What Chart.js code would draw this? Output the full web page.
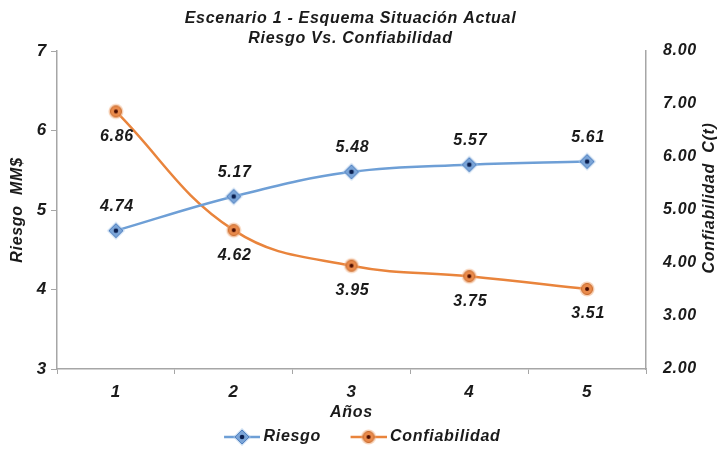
<!DOCTYPE html>
<html>
<head>
<meta charset="utf-8">
<script src="https://cdn.jsdelivr.net/npm/chart.js@4/dist/chart.umd.min.js"></script>
<style>
  html, body { margin: 0; padding: 0; background: #ffffff; }
  #wrap { width: 719px; height: 451px; }
</style>
</head>
<body>
<div id="wrap"><canvas id="c" width="719" height="451"></canvas></div>
<script>
// Years on the horizontal axis
const years = ['1', '2', '3', '4', '5'];
// Risk (MM$), left axis
const riesgo = [4.74, 5.17, 5.48, 5.57, 5.61];
// Reliability C(t), right axis
const confiabilidad = [6.86, 4.62, 3.95, 3.75, 3.51];
// Axis tick values
const riesgoTicks = [3, 4, 5, 6, 7];
const confTicks = [2, 3, 4, 5, 6, 7, 8];

const FONT = "'Liberation Sans', Arial, sans-serif";
const TEXT = '#1a1a1a';
const AXIS = '#a6a6a6';
const BLUE = '#6e9fd6';
const ORANGE = '#e9843c';
const SPACING = '0.7px';

function bi(size) {
  return { family: FONT, size: size, style: 'italic', weight: 'bold' };
}

function drawDiamond(ctx, cx, cy) {
  ctx.fillStyle = 'rgba(165,196,232,0.6)';
  ctx.beginPath();
  ctx.moveTo(cx, cy - 9); ctx.lineTo(cx + 9, cy); ctx.lineTo(cx, cy + 9); ctx.lineTo(cx - 9, cy); ctx.closePath();
  ctx.fill();
  ctx.fillStyle = '#7ba5d8';
  ctx.strokeStyle = '#4f7fbf';
  ctx.lineWidth = 1;
  ctx.beginPath();
  ctx.moveTo(cx, cy - 7); ctx.lineTo(cx + 7, cy); ctx.lineTo(cx, cy + 7); ctx.lineTo(cx - 7, cy); ctx.closePath();
  ctx.fill(); ctx.stroke();
  ctx.fillStyle = '#0b1f4f';
  ctx.beginPath(); ctx.arc(cx, cy, 2.3, 0, Math.PI * 2); ctx.fill();
}

function drawCircle(ctx, cx, cy) {
  ctx.fillStyle = 'rgba(240,172,122,0.55)';
  ctx.beginPath(); ctx.arc(cx, cy, 7.5, 0, Math.PI * 2); ctx.fill();
  ctx.fillStyle = '#e98a4b';
  ctx.strokeStyle = '#c86a2c';
  ctx.lineWidth = 1;
  ctx.beginPath(); ctx.arc(cx, cy, 5.5, 0, Math.PI * 2); ctx.fill(); ctx.stroke();
  ctx.fillStyle = '#4a0c00';
  ctx.beginPath(); ctx.arc(cx, cy, 2, 0, Math.PI * 2); ctx.fill();
}

function markerIcon(drawFn) {
  const c = document.createElement('canvas');
  c.width = 20; c.height = 20;
  drawFn(c.getContext('2d'), 10, 10);
  return c;
}

// Legend sample: a short line with the marker on it, placed at the right end
function legendIcon(drawFn, color) {
  const c = document.createElement('canvas');
  c.width = 64; c.height = 20;
  const ctx = c.getContext('2d');
  ctx.strokeStyle = color;
  ctx.lineWidth = 2.5;
  ctx.beginPath(); ctx.moveTo(28, 10); ctx.lineTo(64, 10); ctx.stroke();
  drawFn(ctx, 46, 10);
  return c;
}

const blueMarker = markerIcon(drawDiamond);
const orangeMarker = markerIcon(drawCircle);
const legendIcons = [legendIcon(drawDiamond, BLUE), legendIcon(drawCircle, ORANGE)];

const textSpacing = {
  id: 'textSpacing',
  beforeLayout(chart) { chart.ctx.letterSpacing = SPACING; },
  beforeDraw(chart) { chart.ctx.letterSpacing = SPACING; }
};

// Value labels: above the risk points, below the reliability points
const valueLabels = {
  id: 'valueLabels',
  afterDatasetsDraw(chart) {
    const ctx = chart.ctx;
    ctx.save();
    ctx.font = 'italic bold 16px ' + FONT;
    ctx.fillStyle = TEXT;
    ctx.textAlign = 'center';
    ctx.textBaseline = 'middle';
    chart.data.datasets.forEach((ds, i) => {
      const meta = chart.getDatasetMeta(i);
      const dy = i === 0 ? -24 : 25;
      meta.data.forEach((pt, j) => {
        ctx.fillText(ds.data[j].toFixed(2), pt.x + 1, pt.y + dy);
      });
    });
    ctx.restore();
  }
};

// Right-hand axis title, reading bottom to top
const rightTitle = {
  id: 'rightTitle',
  afterDraw(chart) {
    const ctx = chart.ctx;
    ctx.save();
    ctx.font = 'italic bold 16px ' + FONT;
    ctx.fillStyle = TEXT;
    ctx.textAlign = 'center';
    ctx.textBaseline = 'middle';
    ctx.translate(710, 198);
    ctx.rotate(-Math.PI / 2);
    ctx.fillText('Confiabilidad  C(t)', 0, 0);
    ctx.restore();
  }
};

new Chart(document.getElementById('c'), {
  type: 'line',
  data: {
    labels: years,
    datasets: [
      {
        label: 'Riesgo',
        data: riesgo,
        yAxisID: 'y',
        borderColor: BLUE,
        backgroundColor: BLUE,
        borderWidth: 2.5,
        tension: 0.4,
        pointStyle: blueMarker,
        pointRadius: 8
      },
      {
        label: 'Confiabilidad',
        data: confiabilidad,
        yAxisID: 'y1',
        borderColor: ORANGE,
        backgroundColor: ORANGE,
        borderWidth: 2.5,
        tension: 0.4,
        pointStyle: orangeMarker,
        pointRadius: 8
      }
    ]
  },
  options: {
    responsive: false,
    animation: false,
    devicePixelRatio: 1,
    layout: { padding: { left: 0, right: 18, top: 0, bottom: -4 } },
    font: { family: FONT },
    plugins: {
      title: {
        display: true,
        text: ['Escenario 1 - Esquema Situación Actual', 'Riesgo Vs. Confiabilidad'],
        color: TEXT,
        font: { family: FONT, size: 16, style: 'italic', weight: 'bold', lineHeight: 1.25 },
        padding: { top: 9, bottom: 2 }
      },
      legend: {
        display: true,
        position: 'bottom',
        labels: {
          usePointStyle: true,
          pointStyleWidth: 55,
          padding: 6,
          color: TEXT,
          font: bi(16),
          generateLabels(chart) {
            const items = Chart.defaults.plugins.legend.labels.generateLabels(chart);
            items.forEach((it, i) => { it.pointStyle = legendIcons[i]; });
            return items;
          }
        }
      },
      tooltip: { enabled: false }
    },
    scales: {
      x: {
        offset: true,
        afterFit(s) { s.height = 54; },
        grid: { display: true, offset: true, drawOnChartArea: false, drawTicks: true, tickLength: 5, color: AXIS, lineWidth: 1 },
        border: { display: true, color: AXIS, width: 1.5 },
        ticks: { color: TEXT, padding: 8, font: bi(17) },
        title: {
          display: true, text: 'Años', color: TEXT,
          font: bi(16),
          padding: { top: 0, bottom: 1 }
        }
      },
      y: {
        position: 'left',
        min: 3, max: 7,
        afterFit(s) { s.width = 57; },
        afterBuildTicks(s) { s.ticks = riesgoTicks.map(v => ({ value: v })); },
        grid: { display: true, drawOnChartArea: false, drawTicks: true, tickLength: 6, color: AXIS, lineWidth: 1 },
        border: { display: true, color: AXIS, width: 1.5 },
        ticks: { color: TEXT, padding: 4, font: bi(17) },
        title: {
          display: true, text: 'Riesgo  MM$', color: TEXT,
          font: bi(16),
          padding: { top: 8, bottom: 0 }
        }
      },
      y1: {
        position: 'right',
        min: 2, max: 8,
        afterFit(s) { s.width = 55; },
        afterBuildTicks(s) { s.ticks = confTicks.map(v => ({ value: v })); },
        grid: { display: false, drawOnChartArea: false },
        border: { display: true, color: AXIS, width: 1.5 },
        ticks: {
          color: TEXT, padding: 9,
          font: bi(16),
          callback: v => Number(v).toFixed(2)
        },
        title: { display: false }
      }
    }
  },
  plugins: [textSpacing, valueLabels, rightTitle]
});
</script>
</body>
</html>
